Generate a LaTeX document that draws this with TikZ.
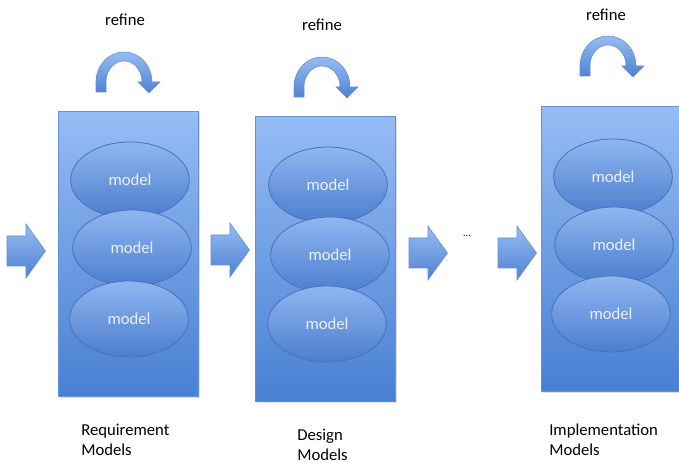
\documentclass[tikz,border=0pt]{standalone}
\usepackage{fontspec}
\setmainfont{Carlito}
\usetikzlibrary{shapes.geometric,shadows}

\definecolor{boxtop}{RGB}{150,188,244}
\definecolor{boxbot}{RGB}{72,128,210}
\definecolor{boxedge}{RGB}{105,145,215}
\definecolor{elltop}{RGB}{142,182,240}
\definecolor{ellbot}{RGB}{76,126,206}
\definecolor{elledge}{RGB}{72,112,188}
\definecolor{arrtop}{RGB}{150,188,242}
\definecolor{arrbot}{RGB}{78,130,210}
\definecolor{arredge}{RGB}{100,140,210}
\definecolor{modeltext}{RGB}{236,240,250}

\tikzset{
  stage/.style={rectangle, anchor=north west, inner sep=0pt,
    minimum width=105pt, minimum height=213.75pt,
    draw=boxedge, line width=0.5pt, top color=boxtop, bottom color=boxbot,
    drop shadow={shadow xshift=1pt, shadow yshift=-1pt, opacity=0.25, fill=gray}},
  model/.style={ellipse, inner sep=0pt, minimum width=89pt, minimum height=57pt,
    draw=elledge, line width=0.6pt, top color=elltop, bottom color=ellbot,
    text=modeltext, font=\fontsize{12.5}{15}\selectfont},
  caption/.style={anchor=north west, align=left, inner sep=0pt,
    font=\fontsize{12.5}{15}\selectfont},
  refinelabel/.style={inner sep=0pt, font=\fontsize{12.5}{15}\selectfont},
  flowarrow/.style={draw=arredge, line width=0.4pt, top color=arrtop, bottom color=arrbot},
  blockarrow/.pic={
    \path[flowarrow] (-19,-15) -- (0,-15) -- (0,-27) -- (19.5,0) -- (0,27)
      -- (0,15) -- (-19,15) -- cycle;
  },
  refinearrow/.pic={
    \path[flowarrow]
      (-28,10) -- (-28,0)
      -- plot[domain=180:0, samples=40] ({28*cos(\x)},{-30*sin(\x)})
      -- (36,0) -- (25,11) -- (14,0) -- (18,0)
      -- plot[domain=0:180, samples=40] ({18*cos(\x)},{-21*sin(\x)})
      -- (-18,10) -- cycle;
  },
}

\begin{document}
\begin{tikzpicture}[x=0.75pt,y=-0.75pt]
\useasboundingbox (0,0) rectangle (679,463);

% stage containers
\node[stage] (req) at (58,111) {};
\node[stage] (des) at (255,116) {};
\node[stage] (imp) at (541,106) {};

% models inside each stage
\node[model] (r1) at (130,180) {model};
\node[model] (r2) at (132,248) {model};
\node[model] (r3) at (129,319) {model};

\node[model] (d1) at (328,185) {model};
\node[model] (d2) at (330,255) {model};
\node[model] (d3) at (327,324) {model};

\node[model] (i1) at (613,177) {model};
\node[model] (i2) at (614,245) {model};
\node[model] (i3) at (611,314) {model};

% refine loops
\pic at (124,82) {refinearrow};
\pic at (322,87) {refinearrow};
\pic at (608,66) {refinearrow};

\node[refinelabel] (ref1) at (125,20) {refine};
\node[refinelabel] (ref2) at (322,25) {refine};
\node[refinelabel] (ref3) at (606,15) {refine};

% flow between stages
\pic at (26,251) {blockarrow};
\pic at (230,250) {blockarrow};
\pic at (428,253) {blockarrow};
\pic at (517,253) {blockarrow};
\node[inner sep=0pt, font=\fontsize{8}{10}\selectfont] (gap) at (467,236) {\dots};

% stage captions
\node[caption] (capr) at (81,424) {Requirement\\Models};
\node[caption] (capd) at (297,429) {Design\\Models};
\node[caption] (capi) at (549,424) {Implementation\\Models};
\end{tikzpicture}
\end{document}
